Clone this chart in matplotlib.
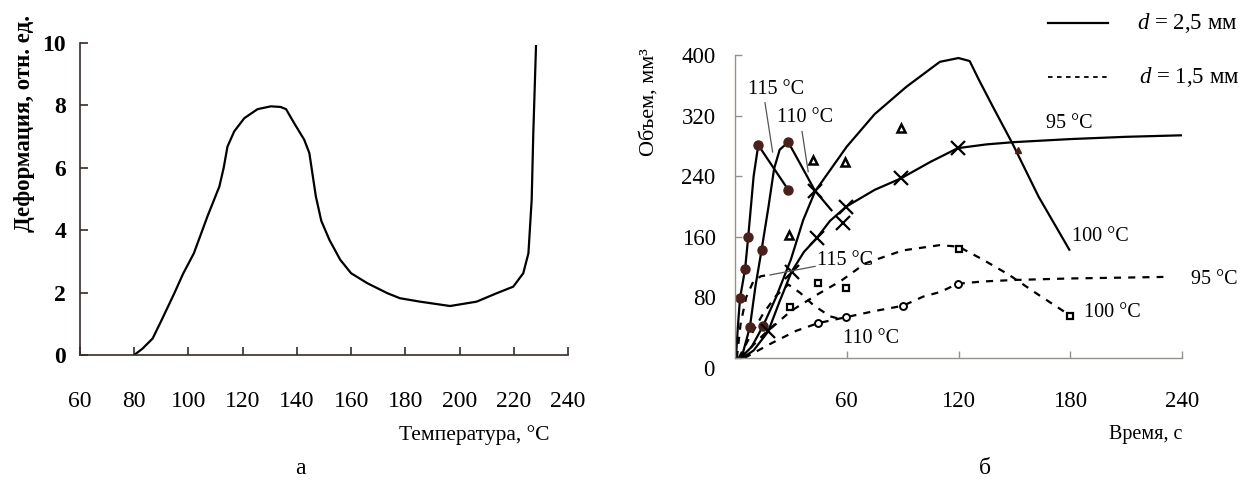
import matplotlib
matplotlib.use("Agg")
import matplotlib.pyplot as plt

plt.rcParams['font.family'] = ['Liberation Serif', 'DejaVu Serif']
plt.rcParams['mathtext.fontset'] = 'custom'
plt.rcParams['mathtext.it'] = 'Liberation Serif:italic'

# ---- Panel a: deformation vs temperature ----
temp = [80, 83, 86.8, 90, 94.8, 98, 102, 107, 111.4, 113, 114.4, 116.9, 120.6, 125.5,
        130.4, 134, 136, 139, 142.7, 144.6, 147, 149, 152, 156, 160, 166, 173.4, 178,
        185.4, 196.5, 206.3, 213.7, 219.8, 223.5, 225.4, 226.6, 227.2, 228.2]
deform = [0, 0.2, 0.53, 1.1, 1.98, 2.6, 3.26, 4.44, 5.4, 6.0, 6.68, 7.17, 7.59, 7.88,
          7.97, 7.95, 7.88, 7.43, 6.9, 6.47, 5.08, 4.3, 3.69, 3.05, 2.62, 2.3, 1.98, 1.82,
          1.71, 1.57, 1.71, 1.98, 2.19, 2.62, 3.26, 4.97, 7.11, 9.9]
a_xticks = [60, 80, 100, 120, 140, 160, 180, 200, 220, 240]
a_yticks = [0, 2, 4, 6, 8, 10]

# ---- Panel b: volume vs time ----
# solid lines (d = 2.5 mm)
s115_t = [0.5, 1.5, 2.7, 5.4, 7.1, 10, 12.5, 28.6]
s115_v = [0, 40, 79, 117, 160, 240, 281, 222]
s110_t = [3.5, 8, 11, 14.3, 18, 21, 24, 28.6, 42.9, 51.8]
s110_v = [0, 41, 95, 143, 200, 250, 275, 285, 221, 195]
s100_t = [3, 9, 15, 22, 30, 36.6, 43, 60, 75, 92, 110, 120, 126, 131, 138.4, 149, 163, 179.5]
s100_v = [0, 15, 42, 80, 130, 182, 220, 279, 322, 358, 391, 396, 392, 367, 332, 283, 213, 143]
s95_t = [4, 10, 17.8, 24, 30.4, 37, 43.8, 51, 59.8, 75, 89, 105, 119.6, 135, 150, 180, 210, 240]
s95_v = [0, 10, 35, 75, 114, 140, 158, 181, 200, 222, 237, 259, 277, 282, 285, 289, 292, 294]
# dashed lines (d = 1.5 mm)
d115_t = [1, 3, 6, 10, 14, 19]
d115_v = [0, 45, 80, 102, 108, 110]
d110_t = [2, 8, 15, 22, 28.6, 35, 42, 51, 59]
d110_v = [0, 28, 58, 82, 97, 86, 70, 55, 50]
d100_t = [3, 15, 30, 45, 57, 70, 90, 110, 120, 133, 147, 162, 180]
d100_v = [0, 30, 62, 85, 102, 125, 142, 149, 147, 130, 110, 85, 56]
d95_t = [5, 20, 33, 44.6, 59.8, 75, 90.2, 101, 110, 119.6, 133, 150, 180, 230]
d95_v = [0, 20, 36, 46, 54, 62, 69, 81, 87, 98, 101, 103, 105, 107]
# markers
fc_t = [2.7, 5.4, 7.1, 12.5, 28.6, 8.0, 14.3, 14.8, 28.6]
fc_v = [79, 117, 160, 281, 222, 41, 143, 42, 285]
tri_t = [29.1, 42, 58.9, 89.3]
tri_v = [162, 262, 259, 303]
x_t = [17.8, 30.4, 43.8, 58, 59.8, 89, 119.6, 42.9]
x_v = [35, 114, 158, 178, 200, 237, 277, 220]
dot_t = [151.8]
dot_v = [275]
sq_t = [29.5, 44.6, 59.8, 120.5, 179.8]
sq_v = [67, 99, 92, 144, 56]
oc_t = [44.6, 59.8, 90.2, 119.6]
oc_v = [46, 54, 68, 98]
b_xticks = [60, 120, 180, 240]
b_yticks = [0, 80, 160, 240, 320, 400]

W, H = 1246, 483
fig = plt.figure(figsize=(W / 100, H / 100), dpi=100)

# ---------- Panel a ----------
axa = fig.add_axes([80 / W, 1 - 355 / H, 488 / W, 312 / H])
axa.plot(temp, deform, color='black', lw=1.6)
axa.set_xlim(60, 240)
axa.set_ylim(0, 10)
axa.set_xticks(a_xticks)
axa.set_yticks(a_yticks)
for s in ['top', 'right']:
    axa.spines[s].set_visible(False)
for s in ['left', 'bottom']:
    axa.spines[s].set_color('#3a2a28')
    axa.spines[s].set_linewidth(1.2)
axa.tick_params(axis='x', direction='in', length=6, width=1.2, pad=26,
                labelsize=17, color='#3a2a28')
axa.tick_params(axis='y', direction='in', length=6, width=1.2, pad=10,
                labelsize=17, color='#3a2a28')
for lab in axa.get_yticklabels():
    lab.set_fontweight('bold')
fig.text(25 / W, 1 - 124 / H, 'Деформация, отн. ед.', rotation=90, ha='center',
         va='center', fontsize=16.5, fontweight='bold')
fig.text(474 / W, 1 - 435 / H, 'Температура, °C', ha='center', va='center', fontsize=15.5)
fig.text(300 / W, 1 - 468 / H, 'а', ha='center', va='center', fontsize=17)

# ---------- Panel b ----------
axb = fig.add_axes([735 / W, 1 - 358 / H, 447 / W, 303 / H])
ls_d = (0, (3.2, 3.2))
lc = 'black'
for t, v in [(s115_t, s115_v), (s110_t, s110_v), (s100_t, s100_v), (s95_t, s95_v)]:
    axb.plot(t, v, color=lc, lw=1.6)
for t, v in [(d115_t, d115_v), (d110_t, d110_v), (d100_t, d100_v), (d95_t, d95_v)]:
    axb.plot(t, v, color=lc, lw=1.6, linestyle=ls_d)

mc = '#4a2018'
axb.plot(fc_t, fc_v, 'o', color=mc, ms=6.5, ls='none')
axb.plot(tri_t, tri_v, '^', mfc='white', mec='black', mew=1.8, ms=5.5, ls='none')
axb.plot(x_t, x_v, 'x', color='black', mew=1.6, ms=10, ls='none')
axb.plot(dot_t, dot_v, '^', color=mc, ms=5, ls='none')
axb.plot(sq_t, sq_v, 's', mfc='white', mec='black', mew=1.6, ms=5, ls='none')
axb.plot(oc_t, oc_v, 'o', mfc='white', mec='black', mew=1.4, ms=5, ls='none')

axb.set_xlim(0, 240)
axb.set_ylim(0, 400)
axb.set_xticks(b_xticks)
axb.set_yticks(b_yticks)
axb.set_yticklabels(['' if y == 0 else str(y) for y in b_yticks])
for s in ['top', 'right']:
    axb.spines[s].set_visible(False)
for s in ['left', 'bottom']:
    axb.spines[s].set_color('#9a908a')
    axb.spines[s].set_linewidth(1.0)
axb.tick_params(axis='x', direction='in', length=5, width=1, pad=24,
                labelsize=16.5, color='#9a908a')
axb.tick_params(axis='y', direction='in', length=5, width=1, pad=14,
                labelsize=16.5, color='#9a908a')
axb.annotate('0', xy=(0, 0), xycoords='data', xytext=(-19, -9),
             textcoords='offset points', ha='center', va='center', fontsize=16.5,
             annotation_clip=False)

fig.text(649 / W, 1 - 102 / H, 'Объем, мм³', rotation=90, ha='center', va='center',
         fontsize=16)
fig.text(1146 / W, 1 - 435 / H, 'Время, с', ha='center', va='center', fontsize=14.5)
fig.text(985 / W, 1 - 468 / H, 'б', ha='center', va='center', fontsize=17)

fs = 14.5
axb.text(7, 354, '115 °C', fontsize=fs, ha='left', va='center')
axb.plot([16.1, 20.2], [337, 272], color='#555555', lw=0.9)
axb.text(22.5, 318, '110 °C', fontsize=fs, ha='left', va='center')
axb.plot([36, 39.3], [299, 246], color='#555555', lw=0.9)
axb.text(44, 129, '115 °C', fontsize=fs, ha='left', va='center')
axb.plot([43, 18.75], [121, 109.6], color='#555555', lw=0.9)
axb.text(58, 26, '110 °C', fontsize=fs, ha='left', va='center')
axb.text(167, 310, '95 °C', fontsize=fs, ha='left', va='center')
axb.text(181, 160, '100 °C', fontsize=fs, ha='left', va='center')
axb.text(245, 103, '95 °C', fontsize=fs, ha='left', va='center', clip_on=False)
axb.text(187.5, 60, '100 °C', fontsize=fs, ha='left', va='center')

# legend drawn in data space
axb.plot([168, 200], [442, 442], color='black', lw=1.6, clip_on=False)
axb.text(216, 442, '$d$ = 2,5 мм', fontsize=16.5, ha='left', va='center', clip_on=False)
axb.plot([168, 200], [371, 371], color='black', lw=1.3, linestyle=(0, (2.5, 2.5)),
         clip_on=False)
axb.text(217, 371, '$d$ = 1,5 мм', fontsize=16.5, ha='left', va='center', clip_on=False)

fig.savefig('out.png', dpi=100)
